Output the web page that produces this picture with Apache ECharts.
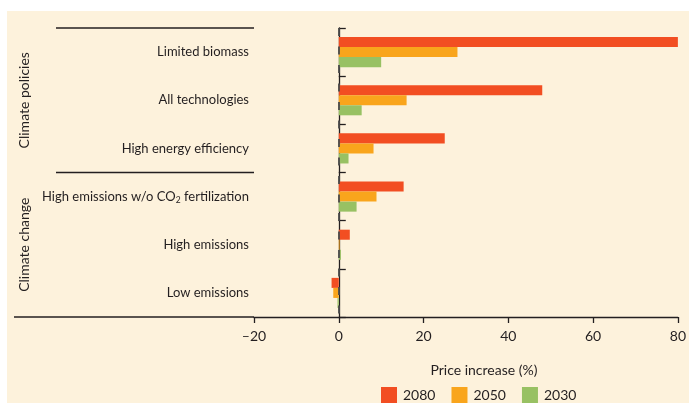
<!DOCTYPE html>
<html><head><meta charset="utf-8">
<script src="https://cdn.jsdelivr.net/npm/echarts@6/dist/echarts.min.js"></script>
<style>html,body{margin:0;padding:0;background:#fff}#c{width:689px;height:403px}</style>
</head><body><div id="c"></div>
<script>
const categories = ['Limited biomass','All technologies','High energy efficiency','High emissions w/o CO2 fertilization','High emissions','Low emissions'];
const groupNames = ['Climate policies','Climate change'];
const groupSizes = [3, 3];
const seriesNames = ['2080','2050','2030'];
const values2080 = [80, 48, 25, 15.3, 2.6, -1.7];
const values2050 = [28, 16, 8.2, 8.9, 0.2, -1.3];
const values2030 = [10, 5.4, 2.3, 4.2, 0.5, -0.3];
const xMin = -20, xMax = 80, xStep = 20;
const colors = ['#F24E22','#F9A51C','#98C163'];

const FONT = 'Lato';
const TXT = '#231F20';
const chart = echarts.init(document.getElementById('c'), null, {renderer:'canvas'});
const seriesData = [values2080, values2050, values2030];
const option = {
  animation: false,
  backgroundColor: 'transparent',
  textStyle: {fontFamily: FONT, color: TXT},
  grid: {left: 254, right: 10, top: 28, bottom: 86, containLabel: false},
  legend: {
    left: 376, top: 382, itemWidth: 16, itemHeight: 16, itemGap: 16,
    icon: 'rect', data: seriesNames,
    textStyle: {fontFamily: FONT, fontSize: 14, color: TXT, padding: [0,0,0,1]}
  },
  xAxis: {
    type: 'value', min: xMin, max: xMax, interval: xStep,
    name: 'Price increase (%)', nameLocation: 'middle', nameGap: 46,
    nameTextStyle: {fontFamily: FONT, fontSize: 14, color: TXT, padding: [0,0,0,36]},
    axisLine: {show: true, lineStyle: {color: TXT, width: 1.3}},
    axisTick: {show: true, length: 6, lineStyle: {color: TXT, width: 1.3}},
    axisLabel: {fontFamily: FONT, fontSize: 14, color: TXT, margin: 12,
      formatter: v => v < 0 ? '\u2013' + Math.abs(v) : String(v)},
    splitLine: {show: false}
  },
  yAxis: {
    type: 'category', data: categories, inverse: true,
    axisLine: {show: true, lineStyle: {color: TXT, width: 1.3}},
    axisTick: {show: true, inside: true, length: 7, lineStyle: {color: TXT, width: 1.3},
      interval: 0},
    axisLabel: {fontFamily: FONT, fontSize: 13, color: TXT, margin: 5,
      formatter: v => v.replace('CO2', 'CO{sub|2}'),
      rich: {sub: {fontFamily: FONT, fontSize: 8.5, color: TXT, padding: [7,0,0,0]}}}
  },
  series: seriesNames.map((n, i) => ({
    name: n, type: 'bar', data: seriesData[i],
    barGap: '0%', barCategoryGap: '37.5%',
    itemStyle: {color: colors[i]},
    markLine: i === 0 ? {
      silent: true, symbol: 'none', label: {show: false},
      lineStyle: {color: '#4a4a4a', type: [8, 10.5], width: 2, opacity: 0.9},
      data: [{xAxis: 0}]
    } : undefined
  }))
};
chart.setOption(option);

// decorative group brackets and labels, positioned from the axis scales
const c0 = chart.convertToPixel({yAxisIndex: 0}, categories[0]);
const c1 = chart.convertToPixel({yAxisIndex: 0}, categories[1]);
const band = c1 - c0;
const xLeft = chart.convertToPixel({xAxisIndex: 0}, xMin);
const yBottom = chart.convertToPixel({yAxisIndex: 0}, categories[categories.length-1]) + band/2;
const graphics = [
  {type: 'rect', z: -10, silent: true, shape: {x: 7, y: 11, width: 682, height: 392}, style: {fill: '#FDF2DC'}},
  {type: 'line', silent: true, shape: {x1: 14, y1: yBottom, x2: xLeft, y2: yBottom}, style: {stroke: TXT, lineWidth: 1.3}}
];
let start = 0;
groupSizes.forEach((sz, gi) => {
  const yTop = c0 + band*start - band/2;
  const yEnd = c0 + band*(start+sz) - band/2;
  graphics.push({type: 'line', silent: true, shape: {x1: 56, y1: yTop, x2: xLeft, y2: yTop}, style: {stroke: TXT, lineWidth: 1.3}});
  graphics.push({type: 'text', silent: true, x: 24, y: (yTop + yEnd)/2, rotation: Math.PI/2,
    style: {text: groupNames[gi], font: '14px ' + FONT, fill: TXT, align: 'center', verticalAlign: 'middle'}});
  start += sz;
});
chart.setOption({graphic: graphics});
</script></body></html>
